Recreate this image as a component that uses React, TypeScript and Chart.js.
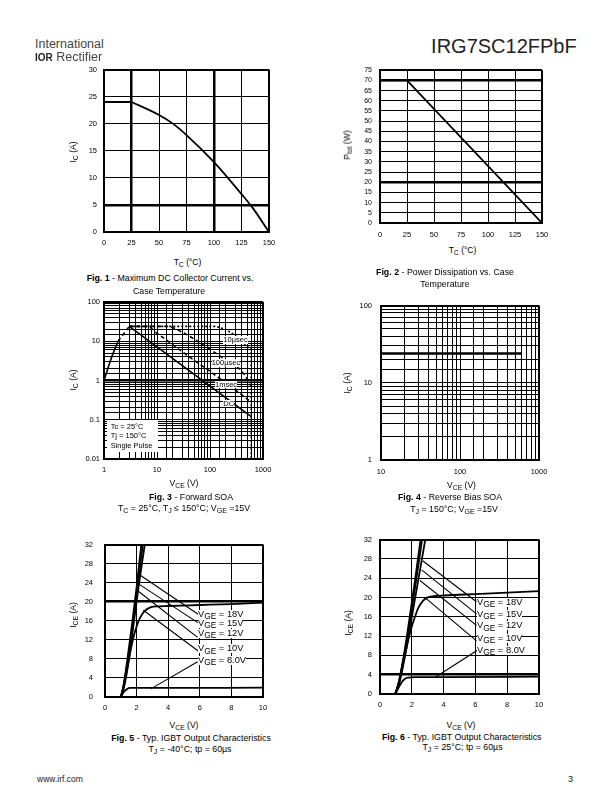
import React, { useEffect, useRef } from "react";
import { Chart, registerables } from "chart.js";
Chart.register(...registerables);

const FONT = '"Liberation Sans", Arial, Helvetica, sans-serif';

// ---------- Fig 1 : Max DC collector current vs case temperature
const fig1FlatTc = [0, 25];
const fig1FlatIc = [24, 24];
const fig1CurveTc = [25, 50, 62, 75, 100, 125, 135, 150];
const fig1CurveIc = [24, 21.6, 20.1, 17.9, 12.9, 7.0, 4.5, 0];

// ---------- Fig 2 : Power dissipation vs case temperature
const fig2Tc = [0, 25, 150];
const fig2Ptot = [70, 70, 0];

// ---------- Fig 3 : Forward SOA
const fig3SatV = [1, 1.4, 1.84];
const fig3SatI = [1, 4, 10];
const fig3RiseV = [1.84, 3];
const fig3RiseI = [10, 24];
const fig3DcV = [3, 600];
const fig3DcI = [24, 0.12];
const fig3Ms1V = [3, 6.5, 10, 30, 100, 300, 600];
const fig3Ms1I = [24, 24, 16, 5.4, 1.7, 0.58, 0.28];
const fig3Us100V = [3, 15, 30, 80, 200, 400, 600];
const fig3Us100I = [24, 24, 17, 7.5, 3.3, 1.7, 0.7];
const fig3Us10V = [3, 130, 200, 300, 450, 600, 600];
const fig3Us10I = [24, 24, 20, 14, 8.5, 6, 0.01];
const fig3Labels = ["10µsec", "100µsec", "1msec", "DC"];

// ---------- Fig 4 : Reverse bias SOA
const fig4V = [10, 600];
const fig4I = [24, 24];
const fig4EdgeV = [600, 600];
const fig4EdgeI = [24, 5];

// ---------- Fig 5 : Output characteristics, TJ = -40°C
const fig5V18X = [1.0, 1.15, 1.4, 1.7, 2.0, 2.3];
const fig5V18Y = [0, 2, 7.5, 15, 23, 32];
const fig5V15X = [1.0, 1.15, 1.45, 1.75, 2.05, 2.4];
const fig5V15Y = [0, 2, 7.5, 15, 23, 32];
const fig5V12X = [1.02, 1.2, 1.5, 1.8, 2.12, 2.52];
const fig5V12Y = [0, 2, 7.5, 15, 23, 32];
const fig5V10X = [1.0, 1.2, 1.4, 1.6, 1.8, 2.0, 2.2, 2.5, 2.8, 3.2, 4, 6, 8, 10];
const fig5V10Y = [0, 2.5, 6, 9.5, 12.5, 14.8, 16.5, 18.0, 18.7, 19.0, 19.1, 19.3, 19.5, 19.8];
const fig5V8X = [1.0, 1.2, 1.4, 1.6, 2.5, 10];
const fig5V8Y = [0, 1.1, 1.7, 1.9, 1.9, 1.95];
const fig5LeadX0 = [2.11, 2.05, 2.11, 2.43, 2.9];
const fig5LeadY0 = [25.8, 23.9, 22.2, 18.2, 1.7];
const fig5LeadX1 = [5.92, 5.92, 5.86, 5.92, 5.86];
const fig5LeadY1 = [17.3, 15.5, 12.5, 9.6, 7.4];

// ---------- Fig 6 : Output characteristics, TJ = 25°C
const fig6V18X = [0.95, 1.15, 1.5, 1.85, 2.2, 2.55];
const fig6V18Y = [0, 2, 8, 15.5, 23.5, 32];
const fig6V15X = [0.95, 1.15, 1.52, 1.9, 2.27, 2.65];
const fig6V15Y = [0, 2, 8, 15.5, 23.5, 32];
const fig6V12X = [0.97, 1.2, 1.58, 1.98, 2.4, 2.85];
const fig6V12Y = [0, 2, 8, 15.5, 23.5, 32];
const fig6V10X = [0.95, 1.2, 1.4, 1.6, 1.8, 2.0, 2.2, 2.4, 2.7, 3.0, 3.5, 4, 6, 8, 10];
const fig6V10Y = [0, 2.5, 5.5, 8.5, 11.5, 14, 16, 17.8, 19.3, 20, 20.3, 20.4, 20.7, 21.0, 21.3];
const fig6V8X = [0.95, 1.2, 1.4, 1.6, 1.8, 2.2, 4, 10];
const fig6V8Y = [0, 1.5, 2.6, 3.2, 3.4, 3.5, 3.5, 3.6];
const fig6LeadX0 = [2.68, 2.62, 2.51, 2.89, 3.45];
const fig6LeadY0 = [27.6, 25.7, 23.5, 19.8, 3.4];
const fig6LeadX1 = [6.07, 6.07, 6.07, 6.07, 6.1];
const fig6LeadY1 = [19.1, 16.6, 14.2, 11, 9];

const gateLabels = ["18V", "15V", "12V", "10V", "8.0V"];

// ---------- helpers
type Ds = { xs: number[]; ys: number[]; w?: number; dash?: number[]; smooth?: boolean };
type Axis = {
  type: "linear" | "logarithmic";
  min: number;
  max: number;
  step?: number;
  thick?: number[];
  pad: number;
  font?: number;
};
type Spec = { L: number; T: number; R: number; B: number; x: Axis; y: Axis; ds: Ds[] };

const YW = 40;
const PT = 10;
const PR = 18;
const XH = 22;

const logLabel = (v: number) => {
  const e = Math.log10(v);
  const r = Math.round(e);
  if (Math.abs(e - r) > 1e-6) return "";
  return r >= 0 ? String(Math.pow(10, r)) : Math.pow(10, r).toFixed(-r);
};

function axisOpts(a: Axis, isY: boolean) {
  const near = (v: number, t: number) =>
    a.type === "logarithmic"
      ? Math.abs(Math.log10(v) - Math.log10(t)) < 1e-6
      : Math.abs(v - t) < 1e-6;
  return {
    type: a.type,
    position: isY ? "left" : "bottom",
    min: a.min,
    max: a.max,
    afterFit: (s: any) => {
      if (isY) s.width = YW;
      else s.height = XH;
    },
    ticks: {
      stepSize: a.step,
      autoSkip: false,
      maxRotation: 0,
      minRotation: 0,
      padding: a.pad,
      color: "#000",
      font: { family: FONT, size: a.font ?? 7.5 },
      callback: (v: any) => (a.type === "logarithmic" ? logLabel(Number(v)) : String(v)),
    },
    grid: {
      color: "#000",
      drawTicks: false,
      lineWidth: (c: any) => {
        const v = c.tick ? c.tick.value : undefined;
        if (v === undefined) return 1;
        if (near(v, a.min) || near(v, a.max)) return 2;
        if (a.thick && a.thick.some((t) => near(v, t))) return 2.5;
        return 1;
      },
    },
    border: { display: true, color: "#000", width: 2 },
  };
}

function PlotBox({ spec }: { spec: Spec }) {
  const ref = useRef<HTMLCanvasElement>(null);
  const w = spec.R - spec.L + YW + PR;
  const h = spec.B - spec.T + PT + XH;
  useEffect(() => {
    if (!ref.current) return;
    const chart = new Chart(ref.current, {
      type: "scatter",
      data: {
        datasets: spec.ds.map((d) => ({
          data: d.xs.map((x, i) => ({ x, y: d.ys[i] })),
          showLine: true,
          pointRadius: 0,
          borderColor: "#000",
          backgroundColor: "#000",
          borderWidth: d.w ?? 1.8,
          borderDash: d.dash ?? [],
          fill: false,
          tension: 0,
          cubicInterpolationMode: d.smooth ? "monotone" : "default",
        })),
      } as any,
      options: {
        responsive: false,
        maintainAspectRatio: false,
        animation: false,
        devicePixelRatio: 1,
        events: [],
        layout: { padding: { left: 0, top: PT, right: PR, bottom: 0 } },
        plugins: { legend: { display: false }, tooltip: { enabled: false } },
        scales: {
          x: axisOpts(spec.x, false) as any,
          y: axisOpts(spec.y, true) as any,
        },
      } as any,
    });
    return () => chart.destroy();
  }, []);
  return (
    <canvas
      ref={ref}
      width={w}
      height={h}
      style={{ position: "absolute", left: spec.L - YW, top: spec.T - PT, width: w, height: h }}
    />
  );
}

function Txt(props: {
  x: number;
  y: number;
  size?: number;
  align?: "left" | "center" | "right";
  bold?: boolean;
  bg?: string;
  lh?: number;
  color?: string;
  children: React.ReactNode;
}) {
  const size = props.size ?? 8.5;
  const lh = props.lh ?? 1.2;
  const tx = props.align === "center" ? "-50%" : props.align === "right" ? "-100%" : "0";
  return (
    <div
      style={{
        position: "absolute",
        left: props.x,
        top: props.y - size * ((lh - 1.117) / 2 + 0.547),
        fontSize: size,
        lineHeight: lh,
        whiteSpace: "nowrap",
        transform: `translateX(${tx})`,
        fontWeight: props.bold ? "bold" : "normal",
        background: props.bg,
        color: props.color ?? "#000",
      }}
    >
      {props.children}
    </div>
  );
}

function VTxt({ x, y, size = 8.5, children }: { x: number; y: number; size?: number; children: React.ReactNode }) {
  return (
    <div
      style={{
        position: "absolute",
        left: x,
        top: y,
        fontSize: size,
        lineHeight: 1.2,
        whiteSpace: "nowrap",
        transform: "translate(-50%, -50%) rotate(-90deg)",
      }}
    >
      {children}
    </div>
  );
}

const Sub = ({ children, s = 0.8 }: { children: React.ReactNode; s?: number }) => (
  <span style={{ fontSize: `${s}em`, position: "relative", top: "0.3em" }}>{children}</span>
);

const lin = (min: number, max: number, step: number, pad: number, thick?: number[], font?: number): Axis => ({
  type: "linear",
  min,
  max,
  step,
  pad,
  thick,
  font,
});
const lg = (min: number, max: number, pad: number, thick?: number[]): Axis => ({
  type: "logarithmic",
  min,
  max,
  pad,
  thick,
});

const specs: Spec[] = [
  {
    L: 104, T: 68, R: 269, B: 232,
    x: lin(0, 150, 25, 6, [25, 100]),
    y: lin(0, 30, 5, 7, [5]),
    ds: [
      { xs: fig1FlatTc, ys: fig1FlatIc, w: 1.8 },
      { xs: fig1CurveTc, ys: fig1CurveIc, w: 1.8, smooth: true },
    ],
  },
  {
    L: 380, T: 68, R: 542, B: 223,
    x: lin(0, 150, 25, 7),
    y: lin(0, 75, 5, 8, [70, 20], 7),
    ds: [{ xs: fig2Tc, ys: fig2Ptot, w: 1.8 }],
  },
  {
    L: 104, T: 302, R: 263, B: 459,
    x: lg(1, 1000, 6),
    y: lg(0.01, 100, 4, [1]),
    ds: [
      { xs: fig3SatV, ys: fig3SatI, w: 1.6, smooth: true },
      { xs: fig3RiseV, ys: fig3RiseI, w: 1.6, dash: [4, 3] },
      { xs: fig3DcV, ys: fig3DcI, w: 1.6 },
      { xs: fig3Ms1V, ys: fig3Ms1I, w: 1.6, dash: [4, 3], smooth: true },
      { xs: fig3Us100V, ys: fig3Us100I, w: 1.6, dash: [4, 3], smooth: true },
      { xs: fig3Us10V, ys: fig3Us10I, w: 1.6, dash: [2, 2] },
    ],
  },
  {
    L: 381, T: 302, R: 539, B: 460,
    x: lg(10, 1000, 7),
    y: lg(1, 100, 9),
    ds: [
      { xs: fig4V, ys: fig4I, w: 2.5 },
      { xs: fig4EdgeV, ys: fig4EdgeI, w: 1 },
    ],
  },
  {
    L: 105, T: 538, R: 263, B: 697,
    x: lin(0, 10, 2, 6),
    y: lin(0, 32, 4, 12, [20]),
    ds: [
      { xs: fig5V18X, ys: fig5V18Y, w: 1.8, smooth: true },
      { xs: fig5V15X, ys: fig5V15Y, w: 1.8, smooth: true },
      { xs: fig5V12X, ys: fig5V12Y, w: 1.8, smooth: true },
      { xs: fig5V10X, ys: fig5V10Y, w: 1.8, smooth: true },
      { xs: fig5V8X, ys: fig5V8Y, w: 1.8, smooth: true },
      ...fig5LeadX0.map((x0, i) => ({
        xs: [x0, fig5LeadX1[i]],
        ys: [fig5LeadY0[i], fig5LeadY1[i]],
        w: 1.1,
      })),
    ],
  },
  {
    L: 380, T: 537, R: 539, B: 694,
    x: lin(0, 10, 2, 6),
    y: lin(0, 32, 4, 8, [4]),
    ds: [
      { xs: fig6V18X, ys: fig6V18Y, w: 1.8, smooth: true },
      { xs: fig6V15X, ys: fig6V15Y, w: 1.8, smooth: true },
      { xs: fig6V12X, ys: fig6V12Y, w: 1.8, smooth: true },
      { xs: fig6V10X, ys: fig6V10Y, w: 1.8, smooth: true },
      { xs: fig6V8X, ys: fig6V8Y, w: 1.8, smooth: true },
      ...fig6LeadX0.map((x0, i) => ({
        xs: [x0, fig6LeadX1[i]],
        ys: [fig6LeadY0[i], fig6LeadY1[i]],
        w: 1.1,
      })),
    ],
  },
];

const fig5LabelY = [614, 623, 633, 648.5, 660];
const fig6LabelY = [602.3, 614.3, 625.7, 638.3, 650.3];
const fig3LabelPos = [
  [223.3, 340],
  [211.7, 362.7],
  [215, 384.3],
  [223.3, 403.3],
];

function Caption({ x, y, n, text }: { x: number; y: number; n: number; text: string }) {
  return (
    <Txt x={x} y={y} size={8.8} align="center">
      <b>Fig. {n}</b> - {text}
    </Txt>
  );
}

export default function App() {
  return (
    <div
      style={{
        position: "absolute",
        left: 0,
        top: 0,
        width: 612,
        height: 792,
        background: "#fff",
        fontFamily: FONT,
        color: "#000",
        overflow: "hidden",
      }}
    >
      {specs.map((s, i) => (
        <PlotBox key={i} spec={s} />
      ))}

      {/* header */}
      <Txt x={35} y={44.8} size={12.5} color="#444">International</Txt>
      <Txt x={35} y={57.2} size={12.5} color="#444">
        <span style={{ fontWeight: "bold", fontSize: 10, color: "#222" }}>IOR</span> Rectifier
      </Txt>
      <Txt x={576.7} y={45.5} size={20} align="right" color="#222">IRG7SC12FPbF</Txt>

      {/* Fig 1 */}
      <VTxt x={73} y={151.7}>I<Sub>C</Sub> (A)</VTxt>
      <Txt x={187.5} y={262} align="center">T<Sub>C</Sub> (°C)</Txt>
      <Caption x={170} y={278} n={1} text="Maximum DC Collector Current vs." />
      <Txt x={169} y={290.7} size={8.8} align="center">Case Temperature</Txt>

      {/* Fig 2 */}
      <VTxt x={346.7} y={145}>P<Sub>tot</Sub> (W)</VTxt>
      <Txt x={462.5} y={250} align="center">T<Sub>C</Sub> (°C)</Txt>
      <Caption x={445} y={272.3} n={2} text="Power  Dissipation vs. Case" />
      <Txt x={445} y={284.3} size={8.8} align="center">Temperature</Txt>

      {/* Fig 3 */}
      <VTxt x={73.3} y={380}>I<Sub>C</Sub> (A)</VTxt>
      <Txt x={184} y={483.3} align="center">V<Sub>CE</Sub> (V)</Txt>
      <Caption x={191} y={496.7} n={3} text="Forward SOA" />
      <Txt x={184} y={508.3} size={8.8} align="center">
        T<Sub>C</Sub> = 25°C, T<Sub>J</Sub> ≤ 150°C; V<Sub>GE</Sub> =15V
      </Txt>
      {fig3Labels.map((t, i) => (
        <Txt key={t} x={fig3LabelPos[i][0]} y={fig3LabelPos[i][1]} size={7.5} lh={1} bg="#fff">
          {t}
        </Txt>
      ))}
      <div style={{ position: "absolute", left: 106.7, top: 420, width: 51.6, height: 31.7, background: "#fff" }} />
      <Txt x={110.7} y={426.7} size={7.5} lh={1}>Tc = 25°C</Txt>
      <Txt x={110.7} y={436} size={7.5} lh={1}>Tj = 150°C</Txt>
      <Txt x={110.7} y={445.7} size={7.5} lh={1}>Single Pulse</Txt>

      {/* Fig 4 */}
      <VTxt x={346.7} y={383.3}>I<Sub>C</Sub> (A)</VTxt>
      <Txt x={461.5} y={485} align="center">V<Sub>CE</Sub> (V)</Txt>
      <Caption x={450} y={497.3} n={4} text="Reverse Bias SOA" />
      <Txt x={454} y={509} size={8.8} align="center">
        T<Sub>J</Sub> = 150°C; V<Sub>GE</Sub> =15V
      </Txt>

      {/* Fig 5 */}
      <VTxt x={73.3} y={615}>I<Sub>CE</Sub> (A)</VTxt>
      <Txt x={184} y={725} align="center">V<Sub>CE</Sub> (V)</Txt>
      <Caption x={191} y={737.7} n={5} text="Typ. IGBT Output Characteristics" />
      <Txt x={190} y={749} size={8.8} align="center">
        T<Sub>J</Sub> = -40°C; tp = 60µs
      </Txt>
      {gateLabels.map((g, i) => (
        <Txt key={g} x={198} y={fig5LabelY[i]} size={9.3} lh={0.95} bg="#fff">
          V<Sub s={0.9}>GE</Sub> = {g}
        </Txt>
      ))}

      {/* Fig 6 */}
      <VTxt x={348.3} y={623}>I<Sub>CE</Sub> (A)</VTxt>
      <Txt x={461} y={725} align="center">V<Sub>CE</Sub> (V)</Txt>
      <Caption x={461.7} y={736.7} n={6} text="Typ. IGBT Output Characteristics" />
      <Txt x={462.5} y={747} size={8.8} align="center">
        T<Sub>J</Sub> = 25°C; tp = 60µs
      </Txt>
      {gateLabels.map((g, i) => (
        <Txt key={g} x={477} y={fig6LabelY[i]} size={9.3} lh={0.95} bg="#fff">
          V<Sub s={0.9}>GE</Sub> = {g}
        </Txt>
      ))}

      {/* footer */}
      <Txt x={37} y={779} size={8.5} color="#222">www.irf.com</Txt>
      <Txt x={573} y={779} size={9} align="right" color="#222">3</Txt>
    </div>
  );
}
